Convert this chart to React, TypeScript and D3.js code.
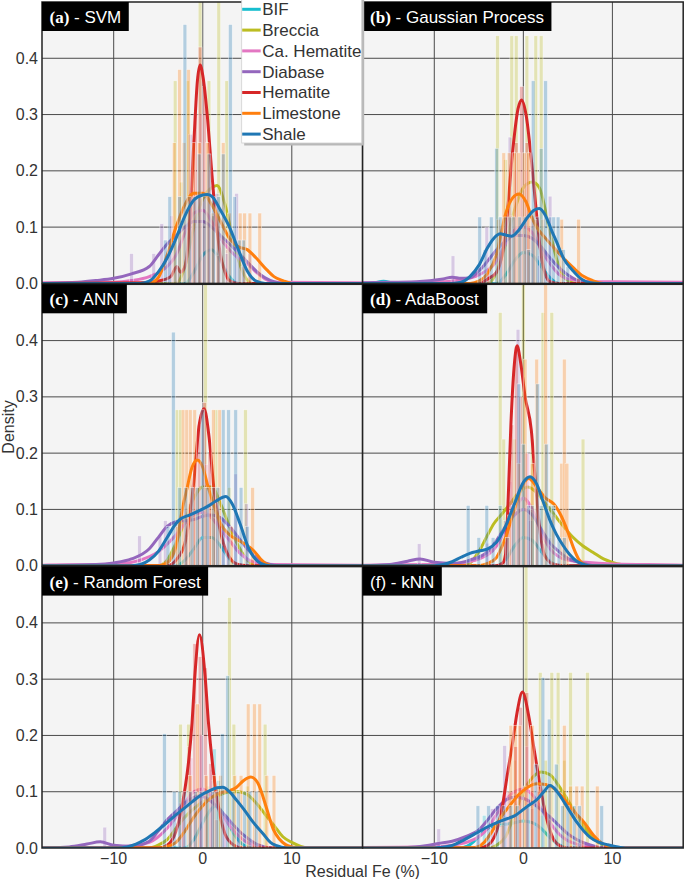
import React from "react";
import * as d3 from "d3";

// ---------------- data ----------------
const CLASSES = ["BIF", "Breccia", "Ca. Hematite", "Diabase", "Hematite", "Limestone", "Shale"];
const CLASS_COLORS = ["#17becf", "#bcbd22", "#e377c2", "#9467bd", "#d62728", "#ff7f0e", "#1f77b4"];
const PANEL_TAGS = ["(a)", "(b)", "(c)", "(d)", "(e)", "(f)"];
const PANEL_MODELS = ["SVM", "Gaussian Process", "ANN", "AdaBoost", "Random Forest", "kNN"];
const X_TICKS = [-10, 0, 10];
const Y_TICKS = [0, 0.1, 0.2, 0.3, 0.4];
const X_DOMAIN = [-18.05, 17.95];
const Y_DOMAIN = [0, 0.5];
const X_LABEL = "Residual Fe (%)";
const Y_LABEL = "Density";

// KDE curves [residual, density] per class (CLASSES order)
const svmKde = [
  [[-2, 0], [-1, 0.02], [0, 0.05], [1, 0.06], [2, 0.04], [3, 0.012], [4, 0]],
  [[-3, 0], [-2, 0.03], [-1, 0.1], [0, 0.15], [1, 0.17], [1.6, 0.174], [2.5, 0.14], [3.5, 0.07], [4.5, 0.02], [5.5, 0]],
  [[-18, 0.001], [-10, 0.002], [-8, 0.005], [-6, 0.012], [-4, 0.03], [-3, 0.05], [-2, 0.09], [-1, 0.125], [0, 0.13], [1, 0.11], [2, 0.08], [3, 0.06], [4, 0.045], [5, 0.035], [6, 0.02], [7, 0.008], [8, 0.002], [18, 0.001]],
  [[-18, 0], [-14, 0.002], [-12, 0.005], [-10, 0.009], [-8, 0.017], [-6, 0.03], [-5, 0.05], [-4, 0.07], [-3, 0.085], [-2, 0.1], [-1, 0.11], [0, 0.11], [1, 0.1], [2, 0.085], [3, 0.07], [4, 0.055], [5, 0.038], [6, 0.022], [7, 0.01], [8, 0.003], [9, 0]],
  [[-7, 0.001], [-5, 0.004], [-3.6, 0.012], [-2.9, 0.03], [-2.5, 0.02], [-2, 0.03], [-1.5, 0.1], [-1, 0.25], [-0.6, 0.36], [-0.3, 0.388], [0, 0.37], [0.5, 0.3], [1, 0.2], [1.5, 0.11], [2, 0.05], [2.5, 0.02], [3, 0.005], [4, 0]],
  [[-6, 0], [-5, 0.01], [-4, 0.05], [-3, 0.1], [-2, 0.14], [-1, 0.16], [0, 0.16], [1, 0.14], [2, 0.11], [3, 0.08], [4, 0.065], [5, 0.06], [6, 0.045], [7.2, 0.024], [8, 0.012], [9, 0.005], [10, 0]],
  [[-7, 0], [-6, 0.004], [-5, 0.02], [-4, 0.045], [-3, 0.08], [-2, 0.12], [-1, 0.148], [0, 0.157], [0.5, 0.158], [1, 0.155], [2, 0.13], [3, 0.1], [4, 0.06], [5, 0.022], [6, 0.004], [7, 0]],
];
const gpKde = [
  [[-17, 0], [-15.7, 0.004], [-14.5, 0], [-3, 0], [-2, 0.015], [-1, 0.04], [0, 0.055], [1, 0.05], [2, 0.03], [3, 0.01], [4, 0]],
  [[-4, 0], [-3, 0.02], [-2, 0.07], [-1, 0.13], [0, 0.17], [1, 0.18], [1.8, 0.17], [3, 0.09], [4, 0.03], [5, 0.005], [6, 0]],
  [[-18, 0.001], [-10, 0.002], [-7, 0.006], [-5, 0.015], [-3, 0.04], [-2, 0.07], [-1, 0.095], [0, 0.1], [1, 0.09], [2, 0.06], [3, 0.035], [4, 0.016], [5, 0.008], [7, 0.004], [10, 0.003], [18, 0.002]],
  [[-18, 0.001], [-12, 0.003], [-9, 0.008], [-8, 0.011], [-7, 0.009], [-6, 0.01], [-5, 0.022], [-4, 0.04], [-3, 0.06], [-2, 0.075], [-1, 0.085], [0, 0.085], [1, 0.08], [2, 0.065], [3, 0.045], [4, 0.028], [5, 0.015], [6, 0.006], [7, 0.002], [8, 0]],
  [[-5, 0], [-4, 0.008], [-3, 0.02], [-2, 0.09], [-1.2, 0.235], [-0.6, 0.31], [-0.2, 0.326], [0.3, 0.3], [0.9, 0.22], [1.5, 0.12], [2, 0.05], [2.5, 0.015], [3, 0.003], [4, 0]],
  [[-6, 0], [-5, 0.004], [-4, 0.018], [-3, 0.052], [-2, 0.123], [-1.2, 0.152], [-0.5, 0.159], [0.3, 0.145], [1, 0.115], [1.5, 0.1], [2.5, 0.08], [3.4, 0.064], [4.5, 0.045], [5.6, 0.028], [6.7, 0.013], [7.8, 0.005], [9, 0]],
  [[-8, 0], [-7, 0.002], [-6, 0.012], [-5, 0.032], [-4, 0.064], [-3, 0.085], [-2.6, 0.088], [-2, 0.086], [-1.3, 0.084], [-0.5, 0.095], [0.5, 0.118], [1.2, 0.13], [1.8, 0.133], [2.5, 0.12], [3.2, 0.093], [3.7, 0.075], [4.5, 0.045], [5.6, 0.022], [6.5, 0.008], [7.5, 0.001], [8.5, 0]],
];
const annKde = [
  [[-3, 0], [-2, 0.01], [-1, 0.03], [0, 0.05], [1, 0.05], [2, 0.035], [3, 0.012], [4, 0]],
  [[-5, 0], [-4, 0.01], [-3, 0.04], [-2, 0.08], [-1, 0.12], [0, 0.14], [1, 0.14], [2, 0.11], [3, 0.07], [4, 0.035], [5, 0.01], [6, 0]],
  [[-18, 0.001], [-12, 0.002], [-9, 0.004], [-7, 0.01], [-5, 0.025], [-3, 0.055], [-2, 0.075], [-1, 0.09], [0, 0.095], [1, 0.085], [2, 0.065], [3, 0.045], [4, 0.025], [5, 0.012], [6, 0.005], [8, 0.002], [18, 0.001]],
  [[-18, 0], [-12, 0.002], [-10, 0.005], [-8, 0.012], [-6, 0.03], [-5, 0.05], [-4, 0.07], [-3, 0.078], [-2, 0.08], [-1, 0.082], [0, 0.088], [1, 0.09], [2, 0.085], [3, 0.07], [4, 0.05], [5, 0.03], [6, 0.014], [7, 0.005], [8, 0.001], [9, 0]],
  [[-4, 0], [-3, 0.01], [-2, 0.04], [-1, 0.15], [-0.4, 0.25], [0.15, 0.279], [0.7, 0.23], [1.2, 0.145], [2, 0.06], [3, 0.015], [4, 0.002], [5, 0]],
  [[-5, 0], [-4, 0.005], [-3, 0.035], [-2.3, 0.1], [-1.8, 0.135], [-1.2, 0.175], [-0.6, 0.188], [0, 0.175], [0.6, 0.14], [1.2, 0.11], [2, 0.075], [3, 0.055], [4, 0.045], [5, 0.036], [5.7, 0.027], [6.5, 0.012], [7.2, 0.003], [8, 0]],
  [[-8, 0], [-7, 0.002], [-6, 0.01], [-5, 0.025], [-4, 0.05], [-3, 0.075], [-2.5, 0.083], [-1.5, 0.09], [-0.5, 0.097], [0.5, 0.105], [1.5, 0.115], [2.6, 0.123], [3.3, 0.11], [4.2, 0.074], [5.1, 0.033], [6, 0.01], [6.5, 0.004], [7.5, 0]],
];
const adaKde = [
  [[-3, 0], [-2, 0.01], [-1, 0.035], [0, 0.05], [1, 0.045], [2, 0.025], [3, 0.008], [4, 0]],
  [[-7, 0], [-6, 0.005], [-5, 0.025], [-4, 0.055], [-3.3, 0.075], [-2.5, 0.09], [-1.5, 0.11], [-0.5, 0.13], [0.5, 0.14], [1.5, 0.13], [2.5, 0.11], [3.5, 0.09], [4.5, 0.07], [5.6, 0.05], [6.7, 0.035], [7.8, 0.024], [9, 0.012], [10, 0.006], [11, 0.002], [12, 0]],
  [[-18, 0.001], [-10, 0.002], [-7, 0.005], [-5, 0.012], [-3, 0.035], [-2, 0.065], [-1, 0.1], [0, 0.12], [1, 0.1], [2, 0.06], [3, 0.03], [4, 0.016], [5, 0.01], [7, 0.006], [10, 0.003], [14, 0.002], [18, 0.001]],
  [[-18, 0], [-15, 0.002], [-13, 0.008], [-11.6, 0.012], [-10, 0.006], [-8, 0.004], [-6, 0.01], [-4, 0.025], [-3, 0.045], [-2, 0.07], [-1, 0.09], [0, 0.1], [1, 0.09], [2, 0.065], [3, 0.04], [4, 0.025], [5, 0.013], [6, 0.007], [7, 0.003], [8, 0]],
  [[-3, 0], [-2.3, 0.005], [-2, 0.02], [-1.7, 0.12], [-1.4, 0.25], [-1, 0.36], [-0.7, 0.391], [-0.3, 0.36], [0.2, 0.3], [0.9, 0.24], [1.3, 0.16], [1.8, 0.07], [2.5, 0.015], [3.5, 0.002], [4.5, 0]],
  [[-5, 0], [-4, 0.004], [-3, 0.015], [-2, 0.05], [-1, 0.1], [0, 0.145], [0.6, 0.155], [1.5, 0.14], [2.5, 0.12], [3.4, 0.11], [4.2, 0.09], [5, 0.06], [5.6, 0.033], [6.2, 0.012], [6.8, 0.003], [7.5, 0]],
  [[-10, 0], [-9, 0.002], [-8, 0.007], [-7, 0.015], [-6, 0.022], [-5, 0.026], [-4, 0.03], [-3, 0.042], [-2, 0.07], [-1, 0.11], [0, 0.148], [0.75, 0.158], [1.5, 0.145], [2.2, 0.115], [3, 0.08], [3.7, 0.056], [4.5, 0.035], [5.2, 0.02], [6, 0.008], [6.7, 0.003], [7.5, 0]],
];
const rfKde = [
  [[-2, 0], [-1, 0.015], [0, 0.045], [1, 0.07], [1.5, 0.075], [2.5, 0.055], [3.5, 0.025], [4.5, 0.006], [5.5, 0]],
  [[-6, 0], [-5, 0.005], [-4, 0.015], [-3, 0.035], [-2, 0.055], [-1, 0.07], [0, 0.082], [1, 0.09], [2, 0.095], [3, 0.1], [4, 0.1], [5, 0.095], [6, 0.08], [7, 0.06], [8, 0.04], [9, 0.02], [10, 0.01], [11, 0.003], [12, 0]],
  [[-18, 0], [-10, 0.001], [-8, 0.004], [-6, 0.01], [-4, 0.035], [-3, 0.055], [-2, 0.08], [-1, 0.1], [0, 0.105], [1, 0.09], [2, 0.065], [3, 0.04], [4, 0.022], [5, 0.01], [6, 0.004], [7, 0.001], [8, 0]],
  [[-18, 0], [-15, 0.002], [-13, 0.007], [-11.5, 0.011], [-10, 0.005], [-8, 0.003], [-6, 0.012], [-5, 0.03], [-4, 0.05], [-3, 0.065], [-2, 0.08], [-1, 0.09], [-0.3, 0.093], [0.5, 0.088], [1.5, 0.075], [2.5, 0.058], [3.5, 0.04], [4.5, 0.024], [5.5, 0.012], [6.5, 0.004], [7.5, 0]],
  [[-5, 0], [-4, 0.005], [-3, 0.03], [-2, 0.105], [-1.6, 0.152], [-1.2, 0.223], [-0.86, 0.312], [-0.37, 0.379], [0.26, 0.306], [0.64, 0.223], [1.2, 0.135], [1.8, 0.07], [2.5, 0.025], [3.5, 0.005], [4.5, 0]],
  [[-5, 0], [-4, 0.003], [-3, 0.01], [-2, 0.03], [-1, 0.055], [0, 0.075], [1, 0.09], [2, 0.098], [3, 0.102], [3.8, 0.108], [4.6, 0.12], [5.4, 0.126], [6.2, 0.115], [7.2, 0.069], [7.9, 0.034], [8.6, 0.016], [9.3, 0.006], [10, 0.002], [11, 0]],
  [[-9.5, 0], [-8.5, 0.002], [-7.5, 0.007], [-6.7, 0.013], [-5.5, 0.026], [-4.4, 0.04], [-3.3, 0.055], [-2.2, 0.069], [-1.2, 0.082], [-0.3, 0.093], [0.8, 0.102], [1.6, 0.107], [2.25, 0.108], [3, 0.1], [3.8, 0.085], [4.6, 0.069], [5.7, 0.045], [6.8, 0.025], [7.6, 0.01], [8.3, 0.004], [9.3, 0]],
];
const knnKde = [
  [[-7, 0], [-6, 0.006], [-5, 0.02], [-4, 0.035], [-3, 0.04], [-2, 0.042], [-1, 0.045], [0, 0.048], [1, 0.045], [2, 0.035], [3, 0.018], [4, 0.006], [5, 0]],
  [[-4, 0], [-3, 0.005], [-2, 0.02], [-1, 0.06], [0, 0.1], [1, 0.125], [2, 0.135], [3, 0.13], [4, 0.11], [5, 0.085], [6, 0.058], [7, 0.034], [8, 0.015], [9, 0.005], [10, 0]],
  [[-18, 0.001], [-10, 0.002], [-8, 0.005], [-6, 0.012], [-4, 0.035], [-3, 0.06], [-2, 0.085], [-1, 0.1], [0, 0.105], [1, 0.095], [2, 0.07], [3, 0.045], [4, 0.025], [5, 0.013], [6, 0.007], [7, 0.003], [8, 0.001], [18, 0]],
  [[-18, 0], [-13, 0.001], [-11, 0.004], [-9.5, 0.008], [-8, 0.012], [-6.5, 0.02], [-5, 0.032], [-4, 0.05], [-3, 0.07], [-2, 0.085], [-1, 0.09], [0, 0.088], [1, 0.08], [2, 0.068], [3, 0.055], [4, 0.04], [5, 0.025], [6, 0.015], [7, 0.008], [8, 0.003], [9, 0]],
  [[-5, 0], [-4, 0.005], [-3, 0.03], [-2.4, 0.07], [-1.8, 0.13], [-1.2, 0.188], [-0.7, 0.241], [-0.1, 0.277], [0.6, 0.235], [1.2, 0.176], [1.75, 0.123], [2.5, 0.06], [3.2, 0.022], [4, 0.005], [5, 0]],
  [[-6, 0], [-5, 0.003], [-4.4, 0.01], [-3.5, 0.03], [-2.5, 0.055], [-1.4, 0.078], [-0.5, 0.095], [0.5, 0.108], [1.5, 0.114], [2.5, 0.113], [3.5, 0.105], [4.9, 0.081], [5.8, 0.063], [6.8, 0.046], [7.9, 0.022], [8.7, 0.01], [9.4, 0.004], [10.5, 0]],
  [[-10, 0], [-9.3, 0.001], [-8.1, 0.004], [-6.6, 0.015], [-5.1, 0.028], [-3.7, 0.04], [-2.2, 0.05], [-1, 0.057], [0.45, 0.074], [1.6, 0.087], [2.3, 0.1], [3, 0.111], [3.8, 0.1], [4.6, 0.081], [6, 0.046], [7.5, 0.019], [8.5, 0.01], [9.4, 0.006], [10.9, 0.001], [12, 0]],
];

// Histogram bars [bin centre, density] per class (CLASSES order)
const svmBars = [
  [[-0.5, 0.12], [1.2, 0.12]],
  [[-3.1, 0.36], [-2.4, 0.18], [-1.7, 0.36], [-0.3, 0.72], [0.7, 0.36], [1.8, 0.72], [2.7, 0.36]],
  [[-3.5, 0.12], [-1.0, 0.25], [-0.2, 0.3], [0.8, 0.2], [1.8, 0.12], [2.8, 0.06], [4.5, 0.03]],
  [[-8.0, 0.053], [-5.5, 0.053], [-4.6, 0.106], [-3.9, 0.053], [-1.4, 0.265], [-0.5, 0.16], [0.6, 0.106], [1.6, 0.16], [2.7, 0.053], [3.8, 0.16], [5.3, 0.053]],
  [[-2.9, 0.03], [-1.3, 0.15], [-0.8, 0.3], [-0.3, 0.42], [0.2, 0.35], [0.7, 0.25], [1.2, 0.12], [1.8, 0.05]],
  [[-3.2, 0.25], [-2.6, 0.38], [-2.1, 0.25], [-1.6, 0.38], [-1.0, 0.25], [-0.4, 0.25], [0.5, 0.25], [1.1, 0.125], [1.7, 0.125], [2.3, 0.25], [3.0, 0.125], [4.2, 0.125], [4.7, 0.125], [5.3, 0.125], [6.4, 0.125]],
  [[-4.2, 0.077], [-3.7, 0.154], [-3.1, 0.077], [-2.6, 0.154], [-2.0, 0.46], [-1.5, 0.154], [-0.9, 0.154], [-0.4, 0.23], [0.2, 0.154], [0.7, 0.23], [1.2, 0.154], [1.8, 0.154], [2.3, 0.23], [3.1, 0.46], [3.6, 0.154], [4.1, 0.077], [4.6, 0.077]],
];
const gpBars = [
  [[0.9, 0.1], [2.2, 0.1]],
  [[-2.9, 0.44], [-2.0, 0.22], [-1.3, 0.44], [-0.8, 0.44], [0.4, 0.44], [1.4, 0.44], [2.0, 0.44]],
  [[-2.3, 0.1], [-0.9, 0.2], [0.3, 0.2], [1.3, 0.1], [2.3, 0.05]],
  [[-7.9, 0.049], [-4.1, 0.1], [-2.5, 0.1], [-1.5, 0.26], [0.6, 0.1], [1.8, 0.049], [3.0, 0.155]],
  [[-3.9, 0.02], [-1.4, 0.12], [-0.8, 0.25], [-0.2, 0.35], [0.4, 0.25], [1.0, 0.12]],
  [[-2.8, 0.114], [-2.2, 0.232], [-1.6, 0.232], [-1.0, 0.232], [-0.5, 0.232], [0.1, 0.232], [0.6, 0.232], [1.3, 0.114], [2.2, 0.114], [4.3, 0.114], [6.2, 0.114]],
  [[-4.9, 0.118], [-4.3, 0.06], [-3.6, 0.118], [-3.0, 0.24], [-2.6, 0.118], [-2.0, 0.118], [-1.5, 0.118], [-1.1, 0.118], [-0.4, 0.118], [0.2, 0.118], [0.6, 0.06], [1.1, 0.36], [1.6, 0.118], [2.0, 0.24], [2.5, 0.36], [3.0, 0.118], [3.4, 0.118], [3.9, 0.118], [4.5, 0.06], [5.0, 0.03]],
];
const annBars = [
  [[0.5, 0.1], [1.5, 0.08]],
  [[-2.9, 0.277], [-2.5, 0.277], [-0.6, 0.139], [0.3, 0.55], [1.5, 0.277], [3.0, 0.139], [4.8, 0.277]],
  [[-2.0, 0.1], [-0.8, 0.18], [0.4, 0.18], [1.6, 0.1], [2.8, 0.05]],
  [[-7.1, 0.053], [-4.8, 0.053], [-4.2, 0.08], [-3.0, 0.08], [-1.5, 0.11], [0.6, 0.11], [2.3, 0.08], [3.7, 0.163], [4.9, 0.11]],
  [[-1.8, 0.05], [-1.0, 0.14], [-0.4, 0.25], [0.2, 0.29], [0.8, 0.2], [1.4, 0.1]],
  [[-2.8, 0.07], [-2.2, 0.277], [-1.8, 0.277], [-1.4, 0.277], [-0.9, 0.277], [0.3, 0.139], [0.9, 0.139], [1.2, 0.277], [1.9, 0.277], [3.2, 0.07], [5.6, 0.139]],
  [[-3.9, 0.07], [-3.3, 0.415], [-2.6, 0.139], [-1.9, 0.139], [-1.2, 0.139], [-0.6, 0.139], [0.0, 0.277], [0.5, 0.139], [1.2, 0.139], [1.7, 0.139], [2.3, 0.277], [2.9, 0.277], [3.7, 0.277], [4.3, 0.139], [5.0, 0.07]],
];
const adaBars = [
  [[0.0, 0.1], [1.0, 0.08]],
  [[-2.6, 0.45], [-2.2, 0.225], [-1.0, 0.225], [0.0, 0.55], [1.0, 0.225], [2.2, 0.45], [3.2, 0.45], [6.7, 0.225]],
  [[-1.5, 0.15], [-0.5, 0.2], [0.5, 0.2], [1.5, 0.1], [3.0, 0.05]],
  [[-11.7, 0.039], [-4.0, 0.04], [-2.0, 0.08], [-0.6, 0.42], [0.8, 0.08], [2.2, 0.04]],
  [[-1.8, 0.05], [-1.3, 0.25], [-0.8, 0.39], [-0.3, 0.3], [0.3, 0.2], [0.8, 0.1]],
  [[-1.6, 0.09], [-0.5, 0.182], [0.2, 0.367], [1.0, 0.182], [1.5, 0.367], [2.5, 0.55], [3.3, 0.09], [4.3, 0.182], [4.6, 0.367], [4.9, 0.182]],
  [[-6.2, 0.107], [-5.0, 0.05], [-4.1, 0.107], [-3.4, 0.05], [-2.6, 0.107], [-1.8, 0.05], [-1.1, 0.107], [-0.5, 0.323], [0.0, 0.216], [0.6, 0.107], [1.0, 0.107], [1.6, 0.323], [2.0, 0.107], [2.6, 0.216], [3.0, 0.107], [3.4, 0.107], [4.0, 0.05], [4.6, 0.05]],
];
const rfBars = [
  [[0.5, 0.09], [1.3, 0.176], [1.8, 0.12]],
  [[-2.5, 0.22], [-1.6, 0.22], [0.6, 0.11], [1.8, 0.11], [3.0, 0.445], [3.5, 0.22], [5.0, 0.11], [7.0, 0.22]],
  [[-2.5, 0.08], [-1.3, 0.16], [-0.1, 0.2], [1.0, 0.14], [2.4, 0.06]],
  [[-11.0, 0.037], [-3.5, 0.06], [-2.2, 0.09], [-0.2, 0.2], [1.2, 0.12], [2.5, 0.06], [4.0, 0.03]],
  [[-2.2, 0.07], [-1.5, 0.18], [-0.9, 0.363], [-0.3, 0.34], [0.3, 0.32], [0.9, 0.15], [1.5, 0.05]],
  [[-1.4, 0.129], [-0.6, 0.256], [0.4, 0.129], [1.3, 0.129], [2.0, 0.129], [3.6, 0.129], [4.3, 0.129], [5.1, 0.256], [5.8, 0.256], [6.4, 0.256], [7.2, 0.129], [8.0, 0.129]],
  [[-4.3, 0.203], [-3.2, 0.1], [-2.6, 0.1], [-2.0, 0.1], [-1.4, 0.1], [-0.8, 0.1], [-0.2, 0.1], [0.5, 0.1], [1.1, 0.1], [1.6, 0.1], [2.2, 0.203], [2.8, 0.306], [3.4, 0.1], [4.0, 0.1], [4.7, 0.1], [5.3, 0.1], [6.0, 0.1]],
];
const knnBars = [
  [[-4.4, 0.058], [-2.0, 0.058], [0.8, 0.1], [2.0, 0.058]],
  [[-1.0, 0.156], [0.3, 0.55], [1.9, 0.312], [2.5, 0.156], [3.2, 0.312], [3.9, 0.312], [4.6, 0.156], [5.3, 0.312], [7.2, 0.312]],
  [[-2.0, 0.1], [-0.8, 0.18], [0.4, 0.18], [1.6, 0.12], [3.0, 0.06], [5.0, 0.03]],
  [[-9.5, 0.034], [-5.0, 0.034], [-3.5, 0.07], [-2.1, 0.182], [-0.5, 0.1], [1.0, 0.07], [3.0, 0.05], [6.5, 0.034]],
  [[-2.4, 0.04], [-1.6, 0.1], [-0.9, 0.18], [-0.3, 0.25], [0.4, 0.276], [1.0, 0.2], [1.7, 0.1]],
  [[-2.3, 0.055], [-1.4, 0.218], [-0.9, 0.218], [-0.4, 0.218], [0.2, 0.11], [1.0, 0.218], [1.7, 0.11], [3.0, 0.11], [4.6, 0.218], [5.3, 0.11], [6.0, 0.11], [6.6, 0.11], [8.3, 0.11]],
  [[-5.1, 0.075], [-3.9, 0.075], [-2.9, 0.075], [-2.2, 0.075], [-1.4, 0.075], [-0.7, 0.075], [0.5, 0.075], [1.4, 0.149], [2.2, 0.303], [2.9, 0.229], [3.7, 0.149], [4.4, 0.075], [5.0, 0.075], [5.7, 0.075], [6.3, 0.075], [8.8, 0.075]],
];

const PANEL_KDES = [svmKde, gpKde, annKde, adaKde, rfKde, knnKde];
const PANEL_BARS = [svmBars, gpBars, annBars, adaBars, rfBars, knnBars];

// ---------------- layout ----------------
const W = 685;
const H = 879;
const PANEL_LEFT = 42;
const PANEL_W = 320.6;
const PANEL_TOP = 2;
const PANEL_H = 281.4;
const ROW_STEP = 282.3;
const BAR_W = 0.42;
const SANS = "'Liberation Sans', Arial, Helvetica, sans-serif";
const SERIF = "'Liberation Serif', 'Times New Roman', serif";

let measureCtx: CanvasRenderingContext2D | null = null;
function textWidth(text: string, font: string): number {
  if (!measureCtx) measureCtx = document.createElement("canvas").getContext("2d");
  if (!measureCtx) return text.length * 8;
  measureCtx.font = font;
  return measureCtx.measureText(text).width;
}

function Panel({ index }: { index: number }) {
  const col = index % 2;
  const row = Math.floor(index / 2);
  const left = PANEL_LEFT + col * PANEL_W;
  const top = PANEL_TOP + row * ROW_STEP;
  const x = d3.scaleLinear().domain(X_DOMAIN).range([left, left + PANEL_W]);
  const y = d3.scaleLinear().domain(Y_DOMAIN).range([top + PANEL_H, top]);
  const line = d3
    .line<number[]>()
    .x((d) => x(d[0]))
    .y((d) => y(d[1]))
    .curve(d3.curveMonotoneX);
  const kdes = PANEL_KDES[index];
  const bars = PANEL_BARS[index];
  const clipId = `clip-${index}`;
  const tag = PANEL_TAGS[index];
  const rest = ` - ${PANEL_MODELS[index]}`;
  const tagSerif = index !== 5;
  const tagFont = tagSerif ? `bold 17px ${SERIF}` : `17px ${SANS}`;
  const tagW = textWidth(tag, tagFont);
  const restW = textWidth(rest, `17px ${SANS}`);
  const boxW = 7.5 + tagW + restW + 7.5;

  const extend = (pts: number[][]) => {
    const out = pts.slice();
    if (out[0][0] > X_DOMAIN[0]) out.unshift([X_DOMAIN[0], 0]);
    if (out[out.length - 1][0] < X_DOMAIN[1]) out.push([X_DOMAIN[1], 0]);
    return out;
  };

  return (
    <g>
      <defs>
        <clipPath id={clipId}>
          <rect x={left} y={top} width={PANEL_W} height={PANEL_H} />
        </clipPath>
      </defs>
      <rect x={left} y={top} width={PANEL_W} height={PANEL_H} fill="#f4f4f4" />
      {X_TICKS.map((t) => (
        <line key={`gx${t}`} x1={x(t)} x2={x(t)} y1={top} y2={top + PANEL_H} stroke="#4a4a4a" strokeWidth={1} />
      ))}
      {Y_TICKS.filter((t) => t > 0).map((t) => (
        <line key={`gy${t}`} x1={left} x2={left + PANEL_W} y1={y(t)} y2={y(t)} stroke="#4a4a4a" strokeWidth={1} />
      ))}
      <g clipPath={`url(#${clipId})`}>
        {CLASSES.map((c, ci) => (
          <g key={c}>
            {bars[ci].map((b, bi) => (
              <rect
                key={bi}
                x={x(b[0] - BAR_W / 2)}
                width={x(BAR_W) - x(0)}
                y={y(b[1])}
                height={y(0) - y(b[1])}
                fill={CLASS_COLORS[ci]}
                fillOpacity={0.3}
                stroke="#ffffff"
                strokeOpacity={0.7}
                strokeWidth={0.6}
              />
            ))}
            <path d={line(extend(kdes[ci])) || ""} fill="none" stroke={CLASS_COLORS[ci]} strokeWidth={3} strokeLinejoin="round" />
          </g>
        ))}
      </g>
      <rect x={left} y={top} width={PANEL_W} height={PANEL_H} fill="none" stroke="#222" strokeWidth={1.5} />
      {col === 0 &&
        Y_TICKS.map((t) => (
          <text key={`ty${t}`} x={left - 4} y={y(t)} dy="0.35em" textAnchor="end" fontFamily={SANS} fontSize={16} fill="#333">
            {t.toFixed(1)}
          </text>
        ))}
      {row === 2 &&
        X_TICKS.map((t) => (
          <text key={`tx${t}`} x={x(t)} y={top + PANEL_H + 16} textAnchor="middle" fontFamily={SANS} fontSize={16} fill="#333">
            {t < 0 ? `\u2212${Math.abs(t)}` : `${t}`}
          </text>
        ))}
      <rect x={left} y={top} width={boxW} height={29} fill="#000" />
      <text x={left + 7.5} y={top + 21} fill="#fff" fontSize={17}>
        <tspan fontFamily={tagSerif ? SERIF : SANS} fontWeight={tagSerif ? "bold" : "normal"}>
          {tag}
        </tspan>
        <tspan fontFamily={SANS} style={{ whiteSpace: "pre" }}>{rest}</tspan>
      </text>
    </g>
  );
}

function Legend() {
  const lx = 241.7;
  const ly = -6;
  const lw = 120;
  const lh = 149;
  return (
    <g>
      <rect x={lx + 2.5} y={ly + 2.5} width={lw} height={lh} fill="#b8b8b8" />
      <rect x={lx} y={ly} width={lw} height={lh} fill="#ffffff" stroke="#d0d0d0" strokeWidth={0.8} />
      {CLASSES.map((c, i) => {
        const cy = 9.3 + i * 20.8;
        return (
          <g key={c}>
            <line x1={lx + 0.5} x2={lx + 19} y1={cy} y2={cy} stroke={CLASS_COLORS[i]} strokeWidth={3} />
            <text x={lx + 20.5} y={cy} dy="0.35em" fontFamily={SANS} fontSize={17} fill="#333">
              {c}
            </text>
          </g>
        );
      })}
    </g>
  );
}

export default function App() {
  return (
    <svg
      width={W}
      height={H}
      viewBox={`0 0 ${W} ${H}`}
      style={{ position: "absolute", left: 0, top: 0, background: "#fff" }}
    >
      <rect x={0} y={0} width={W} height={H} fill="#fff" />
      {PANEL_MODELS.map((m, i) => (
        <Panel key={m} index={i} />
      ))}
      <Legend />
      <text x={PANEL_LEFT + PANEL_W} y={877} textAnchor="middle" fontFamily={SANS} fontSize={16} fill="#333">
        {X_LABEL}
      </text>
      <text
        transform={`translate(14, 427) rotate(-90)`}
        textAnchor="middle"
        fontFamily={SANS}
        fontSize={16}
        fill="#333"
      >
        {Y_LABEL}
      </text>
    </svg>
  );
}
